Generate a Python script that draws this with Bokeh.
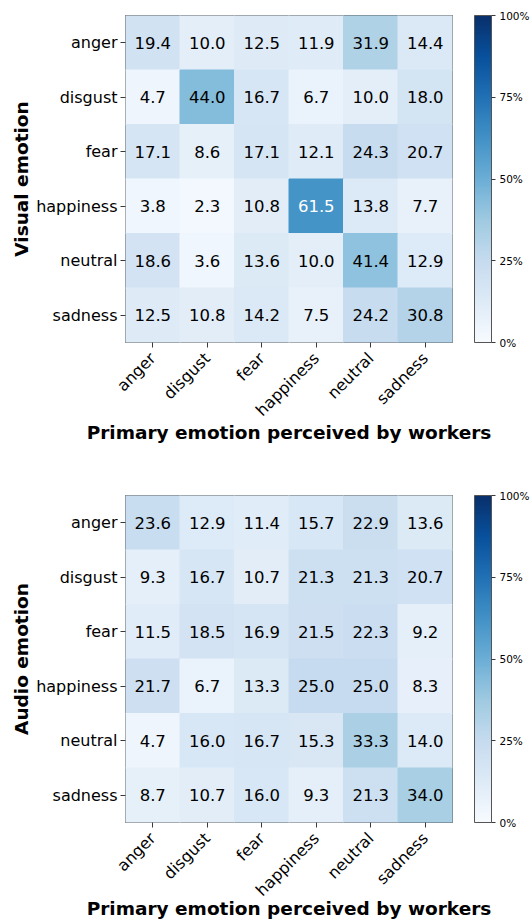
import numpy as np
from bokeh.plotting import figure
from bokeh.models import (ColumnDataSource, LinearColorMapper, ColorBar, FixedTicker,
                          CustomJSTickFormatter, FactorRange)
from bokeh.transform import transform
from bokeh.layouts import column
from bokeh.embed import file_html
from bokeh.resources import INLINE

# ---------------- data ----------------
emotions = ["anger", "disgust", "fear", "happiness", "neutral", "sadness"]

visual_values = [
    [19.4, 10.0, 12.5, 11.9, 31.9, 14.4],
    [4.7, 44.0, 16.7, 6.7, 10.0, 18.0],
    [17.1, 8.6, 17.1, 12.1, 24.3, 20.7],
    [3.8, 2.3, 10.8, 61.5, 13.8, 7.7],
    [18.6, 3.6, 13.6, 10.0, 41.4, 12.9],
    [12.5, 10.8, 14.2, 7.5, 24.2, 30.8],
]

audio_values = [
    [23.6, 12.9, 11.4, 15.7, 22.9, 13.6],
    [9.3, 16.7, 10.7, 21.3, 21.3, 20.7],
    [11.5, 18.5, 16.9, 21.5, 22.3, 9.2],
    [21.7, 6.7, 13.3, 25.0, 25.0, 8.3],
    [4.7, 16.0, 16.7, 15.3, 33.3, 14.0],
    [8.7, 10.7, 16.0, 9.3, 21.3, 34.0],
]

colorbar_ticks = [0, 25, 50, 75, 100]
x_axis_label = "Primary emotion perceived by workers"
top_y_label = "Visual emotion"
bottom_y_label = "Audio emotion"

# ---------------- styling ----------------
FONT = "DejaVu Sans"
blues9 = ["#f7fbff", "#deebf7", "#c6dbef", "#9ecae1", "#6baed6",
          "#4292c6", "#2171b5", "#08519c", "#08306b"]


def build_palette(hexes, n=256):
    rgb = np.array([[int(h[i:i + 2], 16) for i in (1, 3, 5)] for h in hexes], float)
    pos = np.linspace(0, 1, len(hexes))
    out = []
    for t in np.linspace(0, 1, n):
        r, g, b = (int(round(np.interp(t, pos, rgb[:, k]))) for k in range(3))
        out.append("#%02x%02x%02x" % (r, g, b))
    return out


palette = build_palette(blues9)


def make_heatmap(values, ylabel, border_top, fig_height, xlabel_standoff):
    xs, ys, vals, labels, tcolors = [], [], [], [], []
    for i, row_name in enumerate(emotions):
        for j, col_name in enumerate(emotions):
            v = values[i][j]
            xs.append(col_name)
            ys.append(row_name)
            vals.append(v)
            labels.append("%.1f" % v)
            tcolors.append("#ffffff" if v > 50 else "#000000")
    src = ColumnDataSource(dict(x=xs, y=ys, v=vals, label=labels, tc=tcolors))

    mapper = LinearColorMapper(palette=palette, low=0, high=100)

    frame = 327
    p = figure(frame_width=frame, frame_height=frame,
               x_range=FactorRange(*emotions),
               y_range=FactorRange(*list(reversed(emotions))),
               output_backend="svg", toolbar_location=None,
               min_border_left=125, min_border_right=80,
               min_border_top=border_top,
               min_border_bottom=fig_height - border_top - frame)

    p.rect(x="x", y="y", width=1, height=1, source=src,
           fill_color=transform("v", mapper), line_color=transform("v", mapper),
           line_width=1)
    p.text(x="x", y="y", text="label", source=src, text_color="tc",
           text_align="center", text_baseline="middle",
           text_font_size="16.5px", text_font={"value": FONT})

    p.grid.visible = False
    p.outline_line_color = "#3a3a3a"
    p.outline_line_width = 1
    p.background_fill_color = "white"

    for ax in (p.xaxis[0], p.yaxis[0]):
        ax.axis_line_color = None
        ax.major_tick_in = 0
        ax.major_tick_out = 5
        ax.major_tick_line_color = "#3a3a3a"
        ax.minor_tick_line_color = None
        ax.major_label_text_font = FONT
        ax.major_label_text_font_size = "16px"
        ax.major_label_text_color = "#000000"
        ax.major_label_standoff = 3
        ax.axis_label_text_font = FONT
        ax.axis_label_text_font_size = "18.5px"
        ax.axis_label_text_font_style = "bold"
        ax.axis_label_text_color = "#000000"

    p.xaxis.major_label_orientation = np.pi / 4
    p.xaxis.major_label_standoff = 8
    p.xaxis.axis_label = x_axis_label
    p.xaxis.axis_label_standoff = xlabel_standoff
    p.yaxis.axis_label = ylabel
    p.yaxis.axis_label_standoff = 1

    cb = ColorBar(color_mapper=mapper,
                  ticker=FixedTicker(ticks=colorbar_ticks),
                  formatter=CustomJSTickFormatter(code="return tick + '%';"),
                  width=17, height=frame, padding=0, margin=0,
                  location=(22, 0),
                  major_tick_in=0, major_tick_out=4,
                  major_tick_line_color="#3a3a3a",
                  minor_tick_line_color=None,
                  label_standoff=4,
                  major_label_text_font=FONT,
                  major_label_text_font_size="10.5px",
                  major_label_text_color="#000000",
                  bar_line_color="#555555", bar_line_width=1,
                  border_line_color=None, background_fill_alpha=0)
    p.add_layout(cb, "right")
    return p


p_top = make_heatmap(visual_values, top_y_label, 15, 464, -7)
p_bottom = make_heatmap(audio_values, bottom_y_label, 31, 457, -11)

layout = column(p_top, p_bottom)
open("out.html", "w").write(file_html(layout, INLINE))
